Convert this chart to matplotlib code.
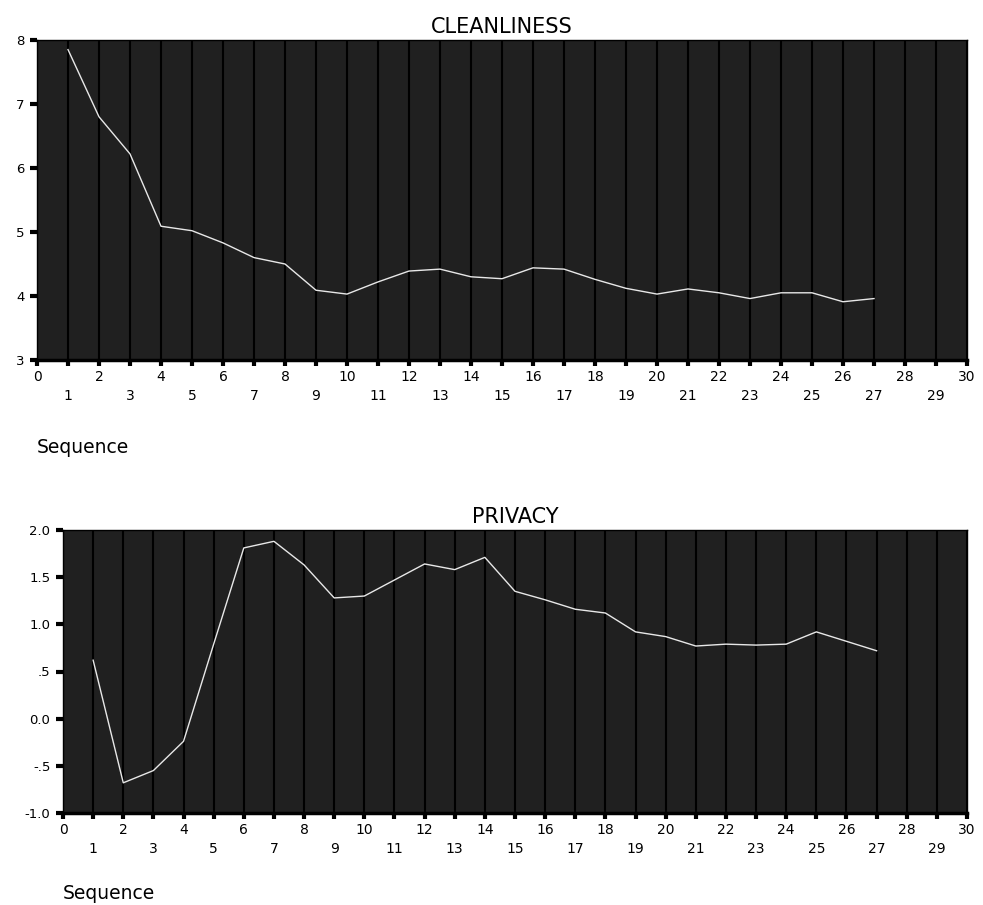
import numpy as np
import matplotlib.pyplot as plt
from matplotlib.ticker import FixedLocator, FixedFormatter

plt.rcParams['font.family'] = ['DejaVu Sans']

seq = list(range(1, 28))
cleanliness = [7.85, 6.80, 6.22, 5.09, 5.02, 4.83, 4.60, 4.50, 4.09, 4.03,
               4.22, 4.39, 4.42, 4.30, 4.27, 4.44, 4.42, 4.26, 4.12, 4.03,
               4.11, 4.05, 3.96, 4.05, 4.05, 3.91, 3.96]
privacy = [0.62, -0.68, -0.55, -0.24, 0.79, 1.81, 1.88, 1.63, 1.28, 1.30,
           1.47, 1.64, 1.58, 1.71, 1.35, 1.26, 1.16, 1.12, 0.92, 0.87,
           0.77, 0.79, 0.78, 0.79, 0.92, 0.82, 0.72]

clean_ticks = [3, 4, 5, 6, 7, 8]
clean_labels = ['3', '4', '5', '6', '7', '8']
priv_ticks = [-1.0, -0.5, 0.0, 0.5, 1.0, 1.5, 2.0]
priv_labels = ['-1.0', '-.5', '0.0', '.5', '1.0', '1.5', '2.0']

W, H = 983, 905
fig = plt.figure(figsize=(W / 100, H / 100), dpi=100)


def panel(rect, y, title, yticks, ylabels, ylim, seq_y):
    ax = fig.add_axes(rect)
    ax.set_facecolor('#202020')
    ax.plot(seq, y, color='#e8e8e8', lw=1.0, zorder=3)
    ax.set_xlim(0, 30)
    ax.set_ylim(*ylim)

    # even labels on the first row, odd ones dropped to a second row
    evens = list(range(0, 31, 2))
    odds = list(range(1, 30, 2))
    ax.xaxis.set_major_locator(FixedLocator(evens))
    ax.xaxis.set_major_formatter(FixedFormatter([str(v) for v in evens]))
    ax.xaxis.set_minor_locator(FixedLocator(odds))
    ax.xaxis.set_minor_formatter(FixedFormatter([str(v) for v in odds]))
    ax.set_yticks(yticks)
    ax.set_yticklabels(ylabels)

    ax.tick_params(axis='x', which='both', direction='out', length=4,
                   width=3, color='black', labelsize=10)
    ax.tick_params(axis='x', which='major', pad=3)
    ax.tick_params(axis='x', which='minor', pad=17)
    ax.tick_params(axis='y', direction='out', length=5, width=3,
                   color='black', labelsize=9.5, pad=4)

    ax.grid(True, axis='x', which='both', color='black', lw=1.5, zorder=2)
    ax.set_axisbelow(True)
    for s in ax.spines.values():
        s.set_color('black')
        s.set_linewidth(1.0)
    ax.spines['bottom'].set_linewidth(2.5)

    ax.set_title(title, fontsize=15, pad=5)
    fig.text(rect[0], seq_y, 'Sequence', fontsize=13.5, va='center', ha='left')
    return ax


panel([37 / W, 1 - 360 / H, 930 / W, 320 / H], cleanliness, 'CLEANLINESS',
      clean_ticks, clean_labels, (3, 8), 1 - 447 / H)
panel([63 / W, 1 - 813 / H, 904 / W, 283 / H], privacy, 'PRIVACY',
      priv_ticks, priv_labels, (-1.0, 2.0), 1 - 893 / H)

fig.savefig('out.png', dpi=100)
